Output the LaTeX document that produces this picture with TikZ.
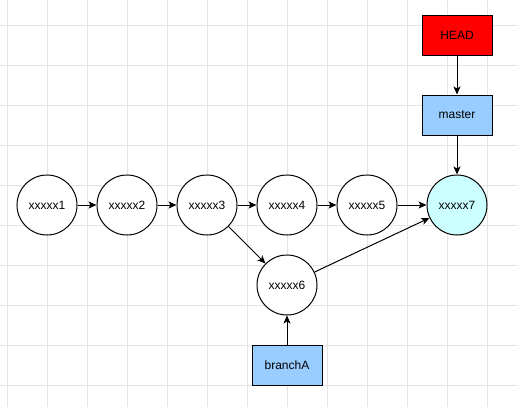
\documentclass[tikz,border=0pt]{standalone}
\usepackage{fontspec}
\setmainfont{Liberation Sans}
\usetikzlibrary{arrows.meta}
\definecolor{gridc}{HTML}{E4E4E4}
\definecolor{headred}{HTML}{FF0000}
\definecolor{branchblue}{HTML}{99CCFF}
\definecolor{tipcyan}{HTML}{CCFFFF}
\begin{document}
\begin{tikzpicture}[x=1pt,y=-1pt,
  commit/.style={circle,draw,line width=1pt,minimum size=60pt,inner sep=0pt,font=\fontsize{12}{14}\selectfont,fill=white},
  ref/.style={rectangle,draw,line width=1pt,minimum width=70pt,minimum height=40pt,inner sep=0pt,font=\fontsize{12}{14}\selectfont},
  link/.style={line width=1pt,-{Stealth[length=8pt,width=7pt,inset=2pt]}}]
\useasboundingbox (0,0) rectangle (517,407);
\fill[white] (0,0) rectangle (517,407);
\foreach \x in {7,47,...,487} \draw[gridc,line width=1pt] (\x,0) -- (\x,407);
\foreach \y in {25,65,...,385} \draw[gridc,line width=1pt] (0,\y) -- (517,\y);
\node[commit] (c1) at (47,205) {xxxxx1};
\node[commit] (c2) at (127,205) {xxxxx2};
\node[commit] (c3) at (207,205) {xxxxx3};
\node[commit] (c4) at (287,205) {xxxxx4};
\node[commit] (c5) at (367,205) {xxxxx5};
\node[commit,fill=tipcyan] (c7) at (457,205) {xxxxx7};
\node[commit] (c6) at (287,285) {xxxxx6};
\node[ref,fill=headred] (head) at (457,35) {HEAD};
\node[ref,fill=branchblue] (master) at (457,115) {master};
\node[ref,fill=branchblue] (branchA) at (287,365) {branchA};
\draw[link] (c1) -- (c2);
\draw[link] (c2) -- (c3);
\draw[link] (c3) -- (c4);
\draw[link] (c4) -- (c5);
\draw[link] (c5) -- (c7);
\draw[link] (c3) -- (c6);
\draw[link] (c6) -- (c7);
\draw[link] (head) -- (master);
\draw[link] (master) -- (c7);
\draw[link] (branchA) -- (c6);
\end{tikzpicture}
\end{document}
